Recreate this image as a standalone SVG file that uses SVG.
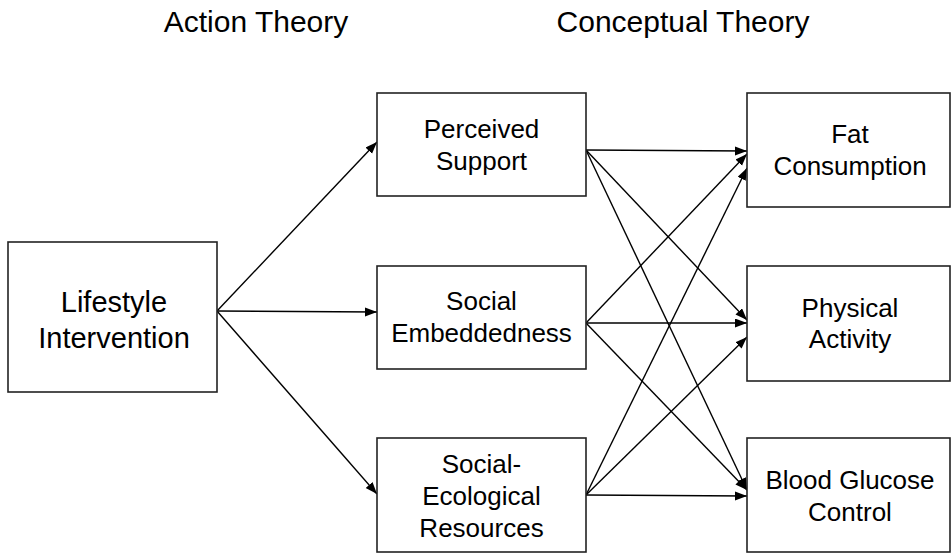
<svg xmlns="http://www.w3.org/2000/svg" width="952" height="554" viewBox="0 0 952 554">
  <style>
    .box { fill: #ffffff; stroke: #222222; stroke-width: 1.6; }
    .lbl { font-family: "Liberation Sans", Arial, sans-serif; fill: #000000; text-anchor: middle; }
    .hdr { font-size: 30px; }
    .big { font-size: 29px; }
    .mid { font-size: 26px; }
    .edge { stroke: #000000; stroke-width: 1.4; fill: none; marker-end: url(#arrow); }
  </style>
  <defs>
    <marker id="arrow" markerUnits="userSpaceOnUse" markerWidth="13" markerHeight="10" refX="12" refY="4.5" orient="auto">
      <path d="M0,0 L12,4.5 L0,9 z" fill="#000000"/>
    </marker>
  </defs>

  <rect width="952" height="554" fill="#ffffff"/>

  <!-- column headings -->
  <g id="headings">
    <text class="lbl hdr" x="256" y="32">Action Theory</text>
    <text class="lbl hdr" x="683" y="32">Conceptual Theory</text>
  </g>

  <!-- connectors -->
  <g id="connectors">
    <line class="edge" x1="217" y1="311" x2="377" y2="142"/>
    <line class="edge" x1="217" y1="311" x2="377" y2="312"/>
    <line class="edge" x1="217" y1="311" x2="377" y2="494"/>

    <line class="edge" x1="586" y1="150" x2="747" y2="151"/>
    <line class="edge" x1="586" y1="150" x2="747" y2="320"/>
    <line class="edge" x1="586" y1="150" x2="747" y2="490"/>

    <line class="edge" x1="586" y1="323" x2="747" y2="154"/>
    <line class="edge" x1="586" y1="323" x2="747" y2="323"/>
    <line class="edge" x1="586" y1="323" x2="747" y2="490"/>

    <line class="edge" x1="586" y1="495" x2="747" y2="168"/>
    <line class="edge" x1="586" y1="495" x2="747" y2="337"/>
    <line class="edge" x1="586" y1="495" x2="747" y2="496"/>
  </g>

  <!-- left column -->
  <g id="lifestyle-intervention">
    <rect class="box" x="8" y="242" width="209" height="150"/>
    <text class="lbl big" x="114" y="312">Lifestyle</text>
    <text class="lbl big" x="114" y="348">Intervention</text>
  </g>

  <!-- middle column -->
  <g id="perceived-support">
    <rect class="box" x="377" y="93" width="209" height="103"/>
    <text class="lbl mid" x="481.5" y="138">Perceived</text>
    <text class="lbl mid" x="481.5" y="170">Support</text>
  </g>
  <g id="social-embeddedness">
    <rect class="box" x="377" y="266" width="209" height="103"/>
    <text class="lbl mid" x="481.5" y="310">Social</text>
    <text class="lbl mid" x="481.5" y="342">Embeddedness</text>
  </g>
  <g id="social-ecological-resources">
    <rect class="box" x="377" y="438" width="209" height="114"/>
    <text class="lbl mid" x="481.5" y="473">Social-</text>
    <text class="lbl mid" x="481.5" y="505">Ecological</text>
    <text class="lbl mid" x="481.5" y="537">Resources</text>
  </g>

  <!-- right column -->
  <g id="fat-consumption">
    <rect class="box" x="747" y="93" width="203" height="114"/>
    <text class="lbl mid" x="850" y="143">Fat</text>
    <text class="lbl mid" x="850" y="175">Consumption</text>
  </g>
  <g id="physical-activity">
    <rect class="box" x="747" y="266" width="203" height="115"/>
    <text class="lbl mid" x="850" y="317">Physical</text>
    <text class="lbl mid" x="850" y="348">Activity</text>
  </g>
  <g id="blood-glucose-control">
    <rect class="box" x="747" y="438" width="203" height="114"/>
    <text class="lbl mid" x="850" y="489">Blood Glucose</text>
    <text class="lbl mid" x="850" y="521">Control</text>
  </g>
</svg>
